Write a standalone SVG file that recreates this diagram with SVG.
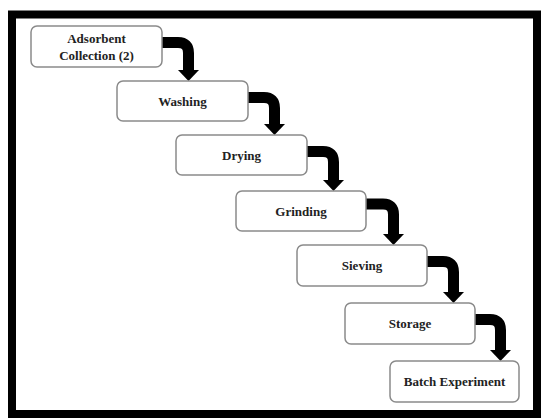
<svg xmlns="http://www.w3.org/2000/svg" width="541" height="418" viewBox="0 0 541 418">
<style>
.box{fill:#fff;stroke:#8a8a8a;stroke-width:1.5}
.lbl{font-family:"Liberation Serif","Times New Roman",serif;font-weight:bold;font-size:13px;fill:#222;text-anchor:middle}
.arr{fill:none;stroke:#000;stroke-width:11}
.head{fill:#000}
</style>
<rect x="0" y="0" width="541" height="418" fill="#fff"/>
<rect x="12" y="14.5" width="525" height="399.5" fill="#fff" stroke="#000" stroke-width="8"/>
<g id="connectors">
<path class="arr" d="M162,42.5 H178 Q188.5,42.5 188.5,53 V71"/>
<polygon class="head" points="178,70 199,70 188.5,81"/>
<path class="arr" d="M248,97.5 H264 Q274.5,97.5 274.5,108 V125"/>
<polygon class="head" points="264,124 285,124 274.5,135"/>
<path class="arr" d="M307,151.5 H323 Q333.5,151.5 333.5,162 V181"/>
<polygon class="head" points="323,180 344,180 333.5,191"/>
<path class="arr" d="M366,204 H383 Q393.5,204 393.5,214.5 V235"/>
<polygon class="head" points="383,234 404,234 393.5,245"/>
<path class="arr" d="M427,261.5 H443 Q453.5,261.5 453.5,272 V293"/>
<polygon class="head" points="443,292 464,292 453.5,303"/>
<path class="arr" d="M475,319.5 H490 Q500.5,319.5 500.5,330 V351"/>
<polygon class="head" points="490,350 511,350 500.5,361"/>
</g>
<g id="n1"><rect class="box" x="31" y="26" width="131" height="41" rx="6"/><text class="lbl" x="96.5" y="43">Adsorbent</text><text class="lbl" x="96.5" y="60">Collection (2)</text></g>
<g id="n2"><rect class="box" x="117" y="81" width="131" height="40" rx="6"/><text class="lbl" x="182.5" y="105.5">Washing</text></g>
<g id="n3"><rect class="box" x="176" y="135" width="131" height="40" rx="6"/><text class="lbl" x="241.5" y="159.5">Drying</text></g>
<g id="n4"><rect class="box" x="236" y="191" width="130" height="40" rx="6"/><text class="lbl" x="301" y="215.5">Grinding</text></g>
<g id="n5"><rect class="box" x="297" y="245" width="130" height="41" rx="6"/><text class="lbl" x="362" y="270">Sieving</text></g>
<g id="n6"><rect class="box" x="345" y="303" width="130" height="41" rx="6"/><text class="lbl" x="410" y="328">Storage</text></g>
<g id="n7"><rect class="box" x="390" y="361" width="129" height="41" rx="6"/><text class="lbl" x="454.5" y="386">Batch Experiment</text></g>
</svg>
